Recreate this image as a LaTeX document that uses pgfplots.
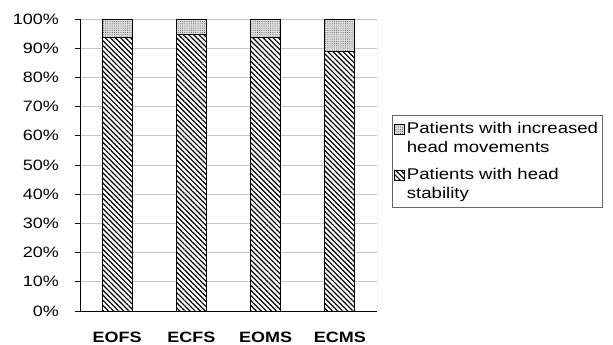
\documentclass[border=0pt]{standalone}
\usepackage{fontspec}
\setmainfont{Liberation Sans}[FakeStretch=1.2]
\usepackage{pgfplots}
\pgfplotsset{compat=1.18}
\usetikzlibrary{patterns.meta}

\begin{document}
\fontsize{15pt}{18pt}\selectfont
\begin{tikzpicture}
\path[use as bounding box] (0,0) rectangle (613pt,345pt);
\begin{axis}[
  at={(80pt,34pt)}, anchor=south west,
  scale only axis, width=297pt, height=292pt,
  ybar stacked, bar width=30pt,
  xmin=-0.5, xmax=3.5, ymin=0, ymax=100,
  xtick={0,1,2,3},
  xticklabels={\textbf{EOFS},\textbf{ECFS},\textbf{EOMS},\textbf{ECMS}},
  major x tick style={draw=none},
  extra x ticks={-0.5,0.5,1.5,2.5,3.5},
  extra x tick labels={},
  extra x tick style={major tick length=5pt, tick style={black, line width=0.8pt}},
  ytick={0,10,...,100},
  yticklabel={\pgfmathprintnumber{\tick}\%},
  /pgf/number format/assume math mode=true,
  tick align=outside, major tick length=5pt,
  ytick style={black, line width=0.8pt},
  ymajorgrids, grid style={gray!45, line width=0.7pt},
  axis x line*=bottom, axis y line*=left,
  axis line style={black, line width=0.9pt},
  xticklabel style={yshift=-10.5pt},
  yticklabel style={xshift=-11pt},
  every tick label/.append style={font=\fontsize{15pt}{18pt}\selectfont},
  legend style={at={(1.05,0.671)}, anchor=north west,
    draw=gray!80!black, line width=0.8pt,
    font=\fontsize{15.5pt}{18.5pt}\selectfont,
    cells={align=left, anchor=west}, row sep=10pt,
    inner xsep=2pt, inner ysep=5pt},
  legend image code/.code={\draw[#1, line width=0.6pt] (2pt,4pt) rectangle (12pt,14pt);},
  reverse legend,
]
% head stability (hatched)
\addplot[draw=black, line width=0.9pt, fill=white,
  postaction={pattern={Lines[angle=-45, distance=3.6pt, line width=1.2pt]}}]
  coordinates {(0,93.6) (1,94.8) (2,93.7) (3,89.0)};
% increased head movements (dotted grey)
\addplot[draw=black, line width=0.9pt, fill=gray!25,
  postaction={pattern={Dots[distance=2.2pt, radius=0.5pt]}, pattern color=gray!60!black}]
  coordinates {(0,6.4) (1,5.2) (2,6.3) (3,11.0)};
\legend{{Patients with head\\stability},{Patients with increased\\head movements}}
% right border of the plot area
\draw[gray!70, line width=0.8pt] (rel axis cs:1,0) -- (rel axis cs:1,1);
\end{axis}
\end{tikzpicture}
\end{document}
